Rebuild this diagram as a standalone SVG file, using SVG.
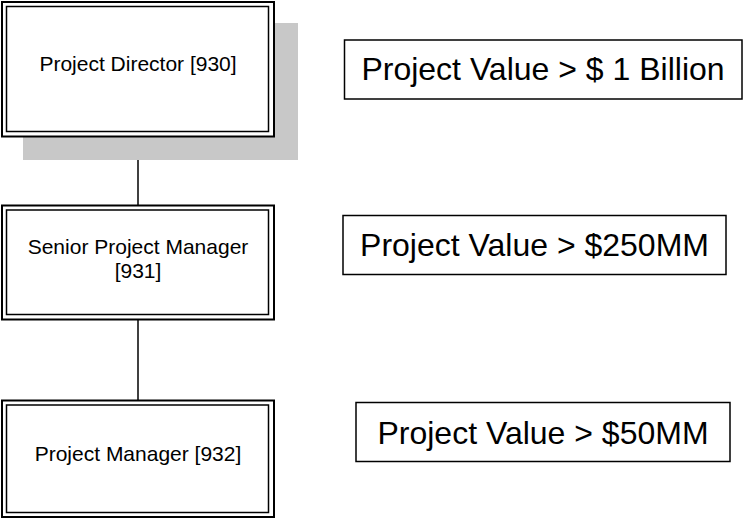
<svg xmlns="http://www.w3.org/2000/svg" width="744" height="519" viewBox="0 0 744 519">
<style>
.bg{fill:#ffffff}
.outer{fill:#ffffff;stroke:#000;stroke-width:2}
.inner{fill:none;stroke:#000;stroke-width:1.5}
.shadow{fill:#c8c8c8;stroke:none}
.note{fill:#ffffff;stroke:#000;stroke-width:1.5}
.lbl{font-family:"Liberation Sans",Arial,sans-serif;font-size:21px;fill:#000;text-anchor:middle}
.big{font-family:"Liberation Sans",Arial,sans-serif;font-size:32px;fill:#000;text-anchor:middle}
.conn{stroke:#000;stroke-width:1.5;fill:none}
</style>
<rect class="bg" x="0" y="0" width="744" height="519"/>
<g id="connectors">
<line class="conn" x1="138" y1="137" x2="138" y2="205"/>
<line class="conn" x1="138" y1="320" x2="138" y2="400"/>
</g>
<g id="node-director">
<rect class="shadow" x="23" y="23" width="275" height="137"/>
<rect class="outer" x="2" y="2" width="272" height="134.5"/>
<rect class="inner" x="6.5" y="6.5" width="262" height="125"/>
<text class="lbl" x="138" y="71">Project Director [930]</text>
</g>
<g id="node-senior">
<rect class="outer" x="2" y="205.5" width="272" height="114"/>
<rect class="inner" x="6.5" y="210" width="262" height="104.5"/>
<text class="lbl" x="138" y="254">Senior Project Manager</text>
<text class="lbl" x="138" y="278">[931]</text>
</g>
<g id="node-manager">
<rect class="outer" x="2" y="400.5" width="272" height="116.5"/>
<rect class="inner" x="6.5" y="405" width="262" height="107.5"/>
<text class="lbl" x="138" y="461">Project Manager [932]</text>
</g>
<g id="note-1b">
<rect class="note" x="344.5" y="40" width="397.5" height="59"/>
<text class="big" x="543" y="80">Project Value &gt; $ 1 Billion</text>
</g>
<g id="note-250">
<rect class="note" x="343" y="215.5" width="383" height="59"/>
<text class="big" x="534.5" y="256">Project Value &gt; $250MM</text>
</g>
<g id="note-50">
<rect class="note" x="356" y="402.5" width="374" height="59"/>
<text class="big" x="543" y="444">Project Value &gt; $50MM</text>
</g>
</svg>
